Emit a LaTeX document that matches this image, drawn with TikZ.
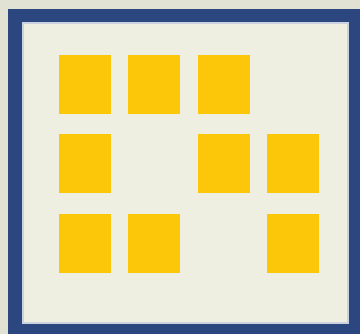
\documentclass[tikz,border=0pt]{standalone}
\usepackage{tikz}
\usepackage{xcolor}
\definecolor{papergrey}{RGB}{226,226,212}
\definecolor{framenavy}{RGB}{44,70,128}
\definecolor{panelcream}{RGB}{238,238,225}
\definecolor{tileyellow}{RGB}{252,199,8}

\begin{document}
\begin{tikzpicture}[x=0.01cm, y=-0.01cm]

%% ── PAGE: paper and bounding box ─────────────────────────────────────────
\useasboundingbox (0,0) rectangle (360,334);
\fill[papergrey] (0,0) rectangle (360,334);

%% ── FRAME: navy border, cream panel (cut off at right and bottom) ───────
\begin{scope}
  \clip (0,0) rectangle (360,334);
  \fill[framenavy] (8,9) rectangle (364,338);
  \fill[panelcream] (23,23) rectangle (348,323);
  % thin pale edge just inside the border
  \draw[white!75!framenavy, line width=0.4pt] (23,23) rectangle (348,323);
\end{scope}

%% ── TILES: 3 rows x 4 columns, some left out ────────────────────────────
\foreach \col/\row in {0/0, 1/0, 2/0,
                       0/1, 2/1, 3/1,
                       0/2, 1/2, 3/2}{
  \fill[tileyellow]
    ({59+\col*69.5},{55+\row*79.5}) rectangle +(52,59);
}

\end{tikzpicture}
\end{document}
